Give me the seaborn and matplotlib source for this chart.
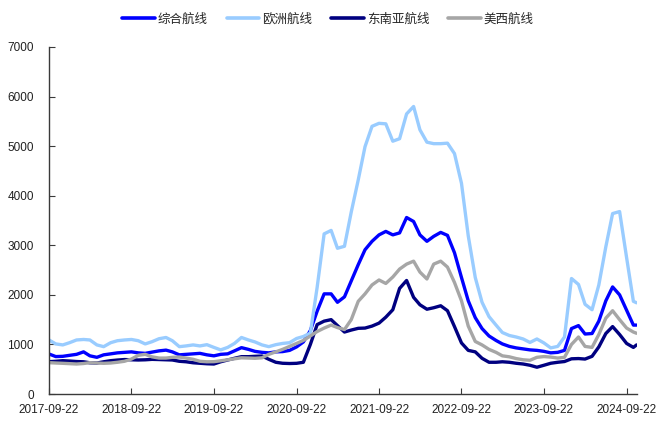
import pandas as pd
import matplotlib
matplotlib.use("Agg")
import matplotlib.pyplot as plt
import matplotlib.dates as mdates
from matplotlib.lines import Line2D
import seaborn as sns

# Monthly readings of the container freight index by route
dates = list(pd.date_range("2017-09-22", periods=86, freq=pd.DateOffset(months=1))) + [pd.Timestamp("2024-11-05")]

composite = [807, 755, 760, 780, 800, 850, 770, 740, 790, 810,
             830, 840, 850, 830, 820, 845, 870, 885, 850, 790,
             800, 810, 820, 790, 770, 800, 810, 870, 935, 900,
             860, 840, 830, 850, 855, 880, 950, 1050, 1280, 1670,
             2020, 2020, 1850, 1960, 2280, 2610, 2910, 3080, 3210, 3280,
             3210, 3250, 3560, 3480, 3210, 3080, 3180, 3260, 3200, 2850,
             2350, 1880, 1540, 1320, 1170, 1080, 1010, 960, 930, 910,
             890, 880, 860, 830, 840, 880, 1320, 1380, 1210, 1220,
             1470, 1880, 2160, 2000, 1690, 1390, 1390]

europe = [1090, 1010, 990, 1035, 1090, 1100, 1090, 990, 955, 1035,
          1075, 1090, 1100, 1075, 1010, 1055, 1115, 1140, 1075, 955,
          970, 990, 970, 995, 940, 890, 940, 1020, 1140, 1090,
          1050, 990, 955, 995, 1020, 1035, 1120, 1160, 1230, 2150,
          3230, 3300, 2940, 2980, 3670, 4320, 4990, 5400, 5460, 5450,
          5100, 5150, 5650, 5800, 5330, 5080, 5050, 5050, 5060, 4850,
          4250, 3190, 2350, 1850, 1560, 1390, 1240, 1180, 1150, 1110,
          1040, 1110, 1030, 930, 960, 1150, 2330, 2210, 1810, 1700,
          2200, 2970, 3640, 3680, 2750, 1870, 1840]

se_asia = [652, 660, 672, 665, 655, 650, 630, 625, 650, 672,
           685, 695, 690, 686, 690, 699, 695, 690, 686, 660,
           650, 630, 620, 610, 605, 650, 686, 720, 753, 753,
           760, 766, 700, 640, 620, 615, 619, 640, 1000, 1400,
           1470, 1500, 1380, 1250, 1290, 1325, 1330, 1370, 1430, 1550,
           1700, 2130, 2290, 1950, 1800, 1710, 1740, 1780, 1680, 1360,
           1030, 880, 850, 720, 640, 640, 650, 640, 620, 605,
           580, 540, 580, 620, 640, 655, 710, 715, 705, 760,
           950, 1220, 1360, 1200, 1020, 940, 990]

us_west = [632, 625, 619, 612, 605, 615, 632, 625, 619, 625,
           640, 660, 705, 780, 800, 750, 725, 725, 740, 745,
           725, 700, 660, 650, 652, 670, 690, 710, 730, 725,
           720, 730, 800, 850, 900, 960, 1020, 1080, 1170, 1260,
           1330, 1390, 1340, 1300, 1500, 1870, 2020, 2200, 2300, 2230,
           2360, 2520, 2620, 2680, 2460, 2320, 2620, 2680, 2560, 2250,
           1880, 1370, 1060, 990, 900, 840, 770, 750, 715, 690,
           680, 740, 755, 745, 725, 740, 1000, 1150, 960, 940,
           1200, 1530, 1680, 1500, 1330, 1250, 1225]

route_names = ["综合航线", "欧洲航线", "东南亚航线", "美西航线"]
route_colors = ["#0000FF", "#99CCFF", "#000080", "#A6A6A6"]
tick_dates = pd.date_range("2017-09-22", periods=8, freq=pd.DateOffset(years=1))
y_ticks = [0, 1000, 2000, 3000, 4000, 5000, 6000, 7000]

sns.set_style("ticks")
plt.rcParams["font.family"] = ["Liberation Sans", "Noto Sans CJK SC", "DejaVu Sans"]

df = pd.concat(
    [pd.DataFrame({"date": dates, "value": vals, "route": name})
     for name, vals in zip(route_names, [composite, europe, se_asia, us_west])],
    ignore_index=True,
)

fig = plt.figure(figsize=(6.56, 4.23), dpi=100)
ax = fig.add_axes([49 / 656, 29 / 423, 588 / 656, 347 / 423])

sns.lineplot(
    data=df, x="date", y="value", hue="route", hue_order=route_names,
    palette=dict(zip(route_names, route_colors)), linewidth=2.4,
    estimator=None, sort=False, legend=False, ax=ax,
)

ax.set_xlim(pd.Timestamp("2017-09-22"), pd.Timestamp("2024-11-07"))
ax.set_ylim(0, 7000)
ax.set_xticks(tick_dates)
ax.xaxis.set_major_formatter(mdates.DateFormatter("%Y-%m-%d"))
ax.set_yticks(y_ticks)
ax.set_xlabel("")
ax.set_ylabel("")

for side in ["top", "right"]:
    ax.spines[side].set_visible(False)
for side in ["left", "bottom"]:
    ax.spines[side].set_color("#3a3a3a")
    ax.spines[side].set_linewidth(1.0)

ax.tick_params(axis="both", direction="in", length=4, width=0.8,
               color="#3a3a3a", labelcolor="#222222", labelsize=8.5)
ax.tick_params(axis="x", pad=7)
ax.tick_params(axis="y", pad=11)

handles = [Line2D([0], [0], color=c, linewidth=2.6) for c in route_colors]
fig.legend(
    handles, route_names, loc="center", bbox_to_anchor=(0.5, 1 - 19 / 423),
    ncol=4, frameon=False, handlelength=2.6, handletextpad=0.25,
    columnspacing=1.5, prop={"family": ["Noto Sans CJK SC", "DejaVu Sans"], "size": 9},
)

fig.savefig("out.png", dpi=100)
